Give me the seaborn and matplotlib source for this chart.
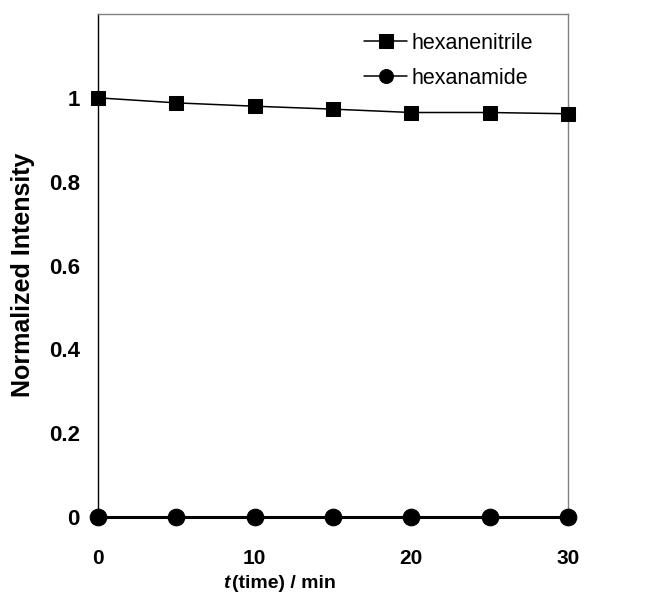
import pandas as pd
import numpy as np
import matplotlib.pyplot as plt
import seaborn as sns

# --- data ---
time_min = [0, 5, 10, 15, 20, 25, 30]
hexanenitrile = [1.0, 0.988, 0.980, 0.973, 0.965, 0.965, 0.962]
hexanamide = [0, 0, 0, 0, 0, 0, 0]
y_ticks = [0, 0.2, 0.4, 0.6, 0.8, 1.0]
y_tick_labels = ['0', '0.2', '0.4', '0.6', '0.8', '1']
x_ticks = [0, 10, 20, 30]

df = pd.DataFrame({
    't': time_min * 2,
    'value': hexanenitrile + hexanamide,
    'compound': ['hexanenitrile'] * len(time_min) + ['hexanamide'] * len(time_min),
})

sns.set_style('white')
plt.rcParams['font.family'] = ['Liberation Sans', 'DejaVu Sans']
plt.rcParams['text.color'] = 'black'
plt.rcParams['axes.labelcolor'] = 'black'
plt.rcParams['xtick.color'] = 'black'
plt.rcParams['ytick.color'] = 'black'

W, H = 647, 596
fig, ax = plt.subplots(figsize=(W / 100, H / 100), dpi=100)
fig.subplots_adjust(left=98 / W, right=568 / W, top=1 - 14 / H, bottom=1 - 517 / H)

sns.lineplot(data=df, x='t', y='value', hue='compound', style='compound',
             markers={'hexanenitrile': 's', 'hexanamide': 'o'}, dashes=False,
             palette={'hexanenitrile': 'black', 'hexanamide': 'black'},
             markeredgecolor='black', ax=ax, clip_on=False, zorder=5)
for line in ax.get_lines():
    if line.get_marker() == 'o':
        line.set_linewidth(2.2)
        line.set_markersize(12)
    else:
        line.set_linewidth(1.1)
        line.set_markersize(10)

ax.set_xlim(0, 30)
ax.set_ylim(0, 1.2)
ax.set_xticks(x_ticks)
ax.set_yticks(y_ticks)
ax.set_yticklabels(y_tick_labels)
ax.tick_params(axis='x', length=0, pad=23, labelsize=15)
ax.tick_params(axis='y', length=0, pad=13, labelsize=16)
for lab in ax.get_xticklabels() + ax.get_yticklabels():
    lab.set_fontweight('bold')

for side in ['top', 'right']:
    ax.spines[side].set_color('#808080')
for side in ['left', 'bottom']:
    ax.spines[side].set_color('black')
for sp in ax.spines.values():
    sp.set_linewidth(1)

ax.set_xlabel('')
ax.set_ylabel('')
fig.text(223 / W, 1 - 583 / H, 't', fontsize=14, fontweight='bold',
         fontstyle='italic', ha='left', va='center')
fig.text(232 / W, 1 - 583 / H, '(time) / min', fontsize=14,
         fontweight='bold', ha='left', va='center')
fig.text(23 / W, 1 - 275 / H, 'Normalized Intensity', fontsize=18,
         fontweight='bold', rotation=90, ha='center', va='center')

leg = ax.legend(loc='upper left', bbox_to_anchor=(364 / W, 1 - 33 / H),
                bbox_transform=fig.transFigure, frameon=False,
                prop={'size': 15.5}, handlelength=2.0,
                handletextpad=0.2, labelspacing=0.65, borderaxespad=0,
                borderpad=0)
for h in leg.get_lines():
    h.set_color('black')
    h.set_linewidth(1.1)
    h.set_markersize(10)

fig.savefig('out.png', dpi=100)
